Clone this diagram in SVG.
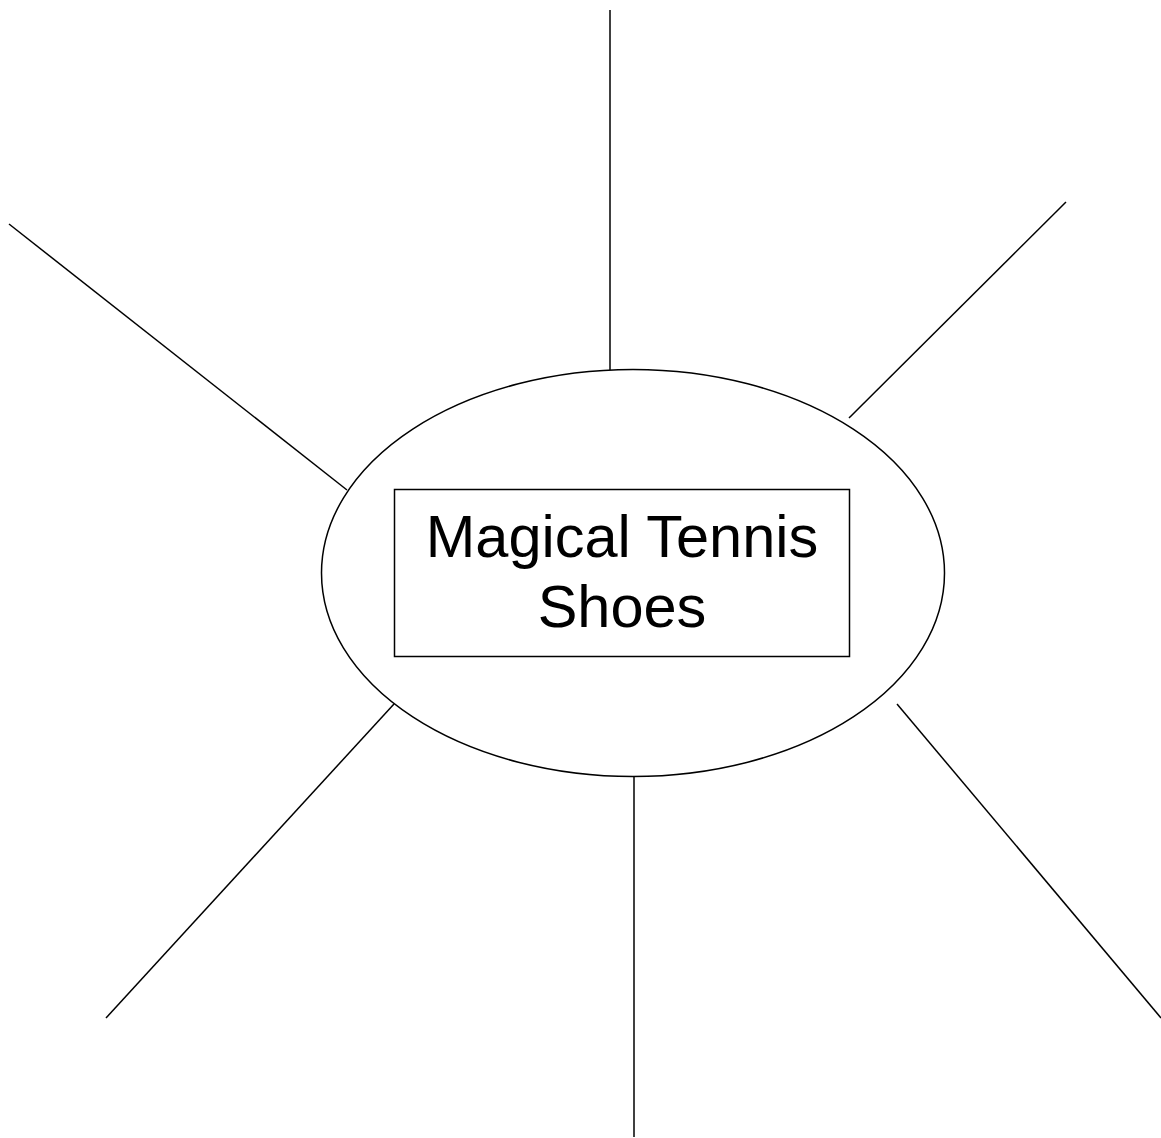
<svg xmlns="http://www.w3.org/2000/svg" width="1161" height="1138" viewBox="0 0 1161 1138">
<style>
.ln{stroke:#000;stroke-width:1.5;fill:none}
.shape{stroke:#000;stroke-width:1.5;fill:#fff}
.lbl{font-family:"Liberation Sans",Arial,sans-serif;font-size:59.5px;fill:#000;text-anchor:middle}
</style>
<rect width="1161" height="1138" fill="#fff"/>
<g id="connectors">
<line class="ln" x1="610" y1="10" x2="610" y2="370"/>
<line class="ln" x1="9" y1="224" x2="347" y2="490"/>
<line class="ln" x1="1066" y1="202" x2="849" y2="418"/>
<line class="ln" x1="394" y1="704" x2="106" y2="1018"/>
<line class="ln" x1="634" y1="777" x2="634" y2="1137"/>
<line class="ln" x1="897" y1="704" x2="1161" y2="1018"/>
</g>
<g id="hub">
<ellipse class="shape" cx="633" cy="573" rx="311.5" ry="203.5"/>
</g>
<g id="title">
<rect class="shape" x="394.5" y="489.5" width="455" height="167"/>
<text class="lbl" x="622" y="557">Magical Tennis</text>
<text class="lbl" x="622" y="627">Shoes</text>
</g>
</svg>
